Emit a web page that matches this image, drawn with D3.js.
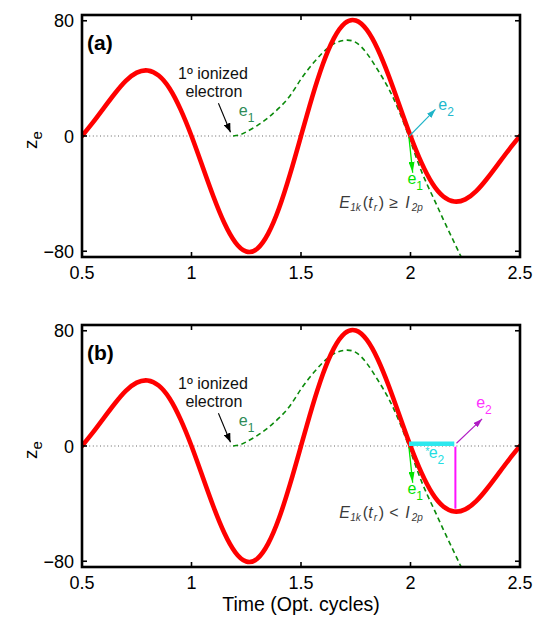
<!DOCTYPE html>
<html>
<head>
<meta charset="utf-8">
<script src="https://cdn.jsdelivr.net/npm/d3@7"></script>
<style>
  body { margin: 0; background: #fff; }
  svg { display: block; }
  text { font-family: "Liberation Sans", Arial, Helvetica, sans-serif; }
</style>
</head>
<body>
<svg id="chart" width="537" height="622"></svg>
<script>
// Driving quiver trajectory (red) sampled every 0.05 optical cycles
const timeRed = [0.50,0.55,0.60,0.65,0.70,0.75,0.80,0.85,0.90,0.95,
                 1.00,1.05,1.10,1.15,1.20,1.25,1.30,1.35,1.40,1.45,
                 1.50,1.55,1.60,1.65,1.70,1.75,1.80,1.85,1.90,1.95,
                 2.00,2.05,2.10,2.15,2.20,2.25,2.30,2.35,2.40,2.45,2.50];
const zRed = [0,9.4,19.5,29.5,38.3,44,45.5,42,33,18.5,
              0,-21,-42,-60.4,-73.8,-80.2,-78.3,-67.8,-50,-26.5,
              0,26.5,50,67.8,78.3,80.2,73.8,60.4,42,21,
              0,-18.5,-33,-42,-45.5,-44,-38.3,-29.5,-19.5,-9.4,0];

// First ionized electron e1 (dashed green)
const timeE1 = [1.19,1.22,1.25,1.30,1.35,1.40,1.45,1.50,1.55,1.60,1.65,1.70,
                1.75,1.80,1.85,1.90,1.95,2.00,2.05,2.10,2.15,2.20,2.25];
const zE1 = [0,0.8,2.8,7.2,12.7,19.5,28,39.5,49.5,58,64,66.5,
             65,57.5,46,33,16.5,-3.5,-24.5,-41.5,-58,-74,-90];

const xTicks = [0.5, 1, 1.5, 2, 2.5];
const yTicks = [-80, 0, 80];
const yTickLabels = ["\u221280", "0", "80"];

const svg = d3.select("#chart");
const x = d3.scaleLinear().domain([0.5, 2.5]).range([82, 520]);

const defs = svg.append("defs");
function marker(id, color, len, wid) {
  defs.append("marker")
    .attr("id", id)
    .attr("markerUnits", "userSpaceOnUse")
    .attr("viewBox", `0 ${-wid/2} ${len} ${wid}`)
    .attr("refX", len).attr("refY", 0)
    .attr("markerWidth", len).attr("markerHeight", wid)
    .attr("orient", "auto")
    .append("path")
    .attr("d", `M0,${-wid/2}L${len},0L0,${wid/2}Z`)
    .attr("fill", color);
}
marker("arBlack", "#000", 9, 7);
marker("arGreen", "#00e400", 11, 6);
marker("arCyan", "#1fb4c8", 9, 6);
marker("arMag", "#b01cc4", 9, 6);

const serif = "'DejaVu Serif', 'Liberation Serif', serif";

function subText(g, px, py, base, sub, color, size, subSize) {
  const t = g.append("text").attr("x", px).attr("y", py)
    .attr("fill", color).attr("font-size", size);
  t.append("tspan").text(base);
  t.append("tspan").attr("dy", size * 0.38).attr("font-size", subSize).text(sub);
  return t;
}

// inline math label E_1k(t_r) rel I_2p, pieces placed along the baseline
function mathLabel(g, px, py, rel) {
  const pieces = [
    { s: "E",  dx: 0,    dy: 0, size: 16, italic: true },
    { s: "1k", dx: 11,   dy: 3, size: 10, italic: true },
    { s: "(",  dx: 23.5, dy: 0, size: 16, italic: false },
    { s: "t",  dx: 29,   dy: 0, size: 16, italic: true },
    { s: "r",  dx: 34.5, dy: 3, size: 10, italic: true },
    { s: ")",  dx: 39.5, dy: 0, size: 16, italic: false },
    { s: rel,  dx: 50,   dy: 0, size: 16, italic: false },
    { s: "I",  dx: 66,   dy: 0, size: 16, italic: true },
    { s: "2p", dx: 72.5, dy: 3, size: 10, italic: true }
  ];
  pieces.forEach(p => {
    g.append("text").attr("x", px + p.dx).attr("y", py + p.dy)
      .attr("font-family", serif).attr("font-size", p.size)
      .attr("font-style", p.italic ? "italic" : "normal")
      .attr("fill", "#3a3a3a").text(p.s);
  });
}

function drawPanel(top, bottom, tag, variant) {
  const y = d3.scaleLinear().domain([-84, 84]).range([bottom, top]);
  const g = svg.append("g");
  const clipId = "clip-" + tag;
  defs.append("clipPath").attr("id", clipId)
    .append("rect").attr("x", x(0.5)).attr("y", top)
    .attr("width", x(2.5) - x(0.5)).attr("height", bottom - top);

  // zero reference
  g.append("line")
    .attr("x1", x(0.5)).attr("x2", x(2.5)).attr("y1", y(0)).attr("y2", y(0))
    .attr("stroke", "#666").attr("stroke-width", 1).attr("stroke-dasharray", "1,2.6");

  const plot = g.append("g").attr("clip-path", `url(#${clipId})`);

  // e1 trajectory
  plot.append("path")
    .datum(timeE1.map((t, i) => [t, zE1[i]]))
    .attr("d", d3.line().x(d => x(d[0])).y(d => y(d[1])).curve(d3.curveNatural))
    .attr("fill", "none").attr("stroke", "#0a8a0a").attr("stroke-width", 1.6)
    .attr("stroke-dasharray", "5,3.5");

  // field quiver
  plot.append("path")
    .datum(timeRed.map((t, i) => [t, zRed[i]]))
    .attr("d", d3.line().x(d => x(d[0])).y(d => y(d[1])).curve(d3.curveNatural))
    .attr("fill", "none").attr("stroke", "#ff0000").attr("stroke-width", 4.6)
    .attr("stroke-linecap", "round");

  // annotations shared by both panels
  const tx = g.append("text").attr("text-anchor", "middle").attr("font-size", 16).attr("fill", "#111");
  tx.append("tspan").attr("x", x(1.098)).attr("y", y(39.6)).text("1\u00BA ionized");
  tx.append("tspan").attr("x", x(1.102)).attr("y", y(27.3)).text("electron");
  g.append("line")
    .attr("x1", x(1.123)).attr("y1", y(22.7)).attr("x2", x(1.178)).attr("y2", y(2.6))
    .attr("stroke", "#000").attr("stroke-width", 1.1).attr("marker-end", "url(#arBlack)");
  subText(g, x(1.216), y(14.1), "e", "1", "#2e8b57", 16, 12);

  // e1 after recollision
  g.append("line")
    .attr("x1", x(1.993)).attr("y1", y(-1)).attr("x2", x(2.010)).attr("y2", y(-25.5))
    .attr("stroke", "#00e400").attr("stroke-width", 1.3).attr("marker-end", "url(#arGreen)");
  subText(g, x(1.986), y(-33.6), "e", "1", "#00e400", 16, 12);

  mathLabel(g, x(1.675), y(-50), variant === "a" ? "\u2265" : "<");

  if (variant === "a") {
    g.append("line")
      .attr("x1", x(1.995)).attr("y1", y(0)).attr("x2", x(2.114)).attr("y2", y(18.5))
      .attr("stroke", "#1fb4c8").attr("stroke-width", 1.1).attr("marker-end", "url(#arCyan)");
    subText(g, x(2.127), y(18), "e", "2", "#22b8cc", 16, 12);
  } else {
    // second electron excitation and delayed ionization
    g.append("line")
      .attr("x1", x(1.993)).attr("x2", x(2.2)).attr("y1", y(1.6)).attr("y2", y(1.6))
      .attr("stroke", "#2ee8ee").attr("stroke-width", 4.5);
    g.append("text").attr("x", x(2.067)).attr("y", y(-6.2)).attr("font-size", 11)
      .attr("fill", "#22dde2").text("*");
    subText(g, x(2.083), y(-8.6), "e", "2", "#22dde2", 16, 12);
    g.append("line")
      .attr("x1", x(2.205)).attr("x2", x(2.205)).attr("y1", y(-0.5)).attr("y2", y(-43.5))
      .attr("stroke", "#ff10ff").attr("stroke-width", 2);
    g.append("line")
      .attr("x1", x(2.21)).attr("y1", y(1.9)).attr("x2", x(2.327)).attr("y2", y(18.8))
      .attr("stroke", "#b01cc4").attr("stroke-width", 1.1).attr("marker-end", "url(#arMag)");
    subText(g, x(2.300), y(26.4), "e", "2", "#ff33ff", 16, 12);
  }

  // frame and ticks
  g.append("rect")
    .attr("x", x(0.5)).attr("y", top).attr("width", x(2.5) - x(0.5)).attr("height", bottom - top)
    .attr("fill", "none").attr("stroke", "#000").attr("stroke-width", 2.6);
  const tl = 5;
  xTicks.forEach(t => {
    g.append("line").attr("x1", x(t)).attr("x2", x(t)).attr("y1", bottom).attr("y2", bottom - tl)
      .attr("stroke", "#000").attr("stroke-width", 1.6);
    g.append("line").attr("x1", x(t)).attr("x2", x(t)).attr("y1", top).attr("y2", top + tl)
      .attr("stroke", "#000").attr("stroke-width", 1.6);
    g.append("text").attr("x", x(t)).attr("y", bottom + 22).attr("text-anchor", "middle")
      .attr("font-size", 18).attr("fill", "#000").text(String(t));
  });
  yTicks.forEach((v, i) => {
    g.append("line").attr("x1", x(0.5)).attr("x2", x(0.5) + tl).attr("y1", y(v)).attr("y2", y(v))
      .attr("stroke", "#000").attr("stroke-width", 1.6);
    g.append("line").attr("x1", x(2.5)).attr("x2", x(2.5) - tl).attr("y1", y(v)).attr("y2", y(v))
      .attr("stroke", "#000").attr("stroke-width", 1.6);
    g.append("text").attr("x", x(0.5) - 8).attr("y", y(v) + 6.5).attr("text-anchor", "end")
      .attr("font-size", 18).attr("fill", "#000").text(yTickLabels[i]);
  });

  // panel tag
  g.append("text").attr("x", x(0.523)).attr("y", y(59.7)).attr("font-size", 21)
    .attr("font-weight", "bold").attr("fill", "#000").text("(" + tag + ")");

  // y-axis label
  const yl = g.append("text")
    .attr("transform", `translate(37,${y(0) + 4}) rotate(-90)`)
    .attr("text-anchor", "middle").attr("font-size", 19).attr("fill", "#000");
  yl.append("tspan").text("z");
  yl.append("tspan").attr("dy", 5).attr("font-size", 15).text("e");
}

drawPanel(15, 257, "a", "a");
drawPanel(325, 567, "b", "b");

svg.append("text").attr("x", x(1.5)).attr("y", 611).attr("text-anchor", "middle")
  .attr("font-size", 19.5).attr("fill", "#000").text("Time (Opt. cycles)");
</script>
</body>
</html>
